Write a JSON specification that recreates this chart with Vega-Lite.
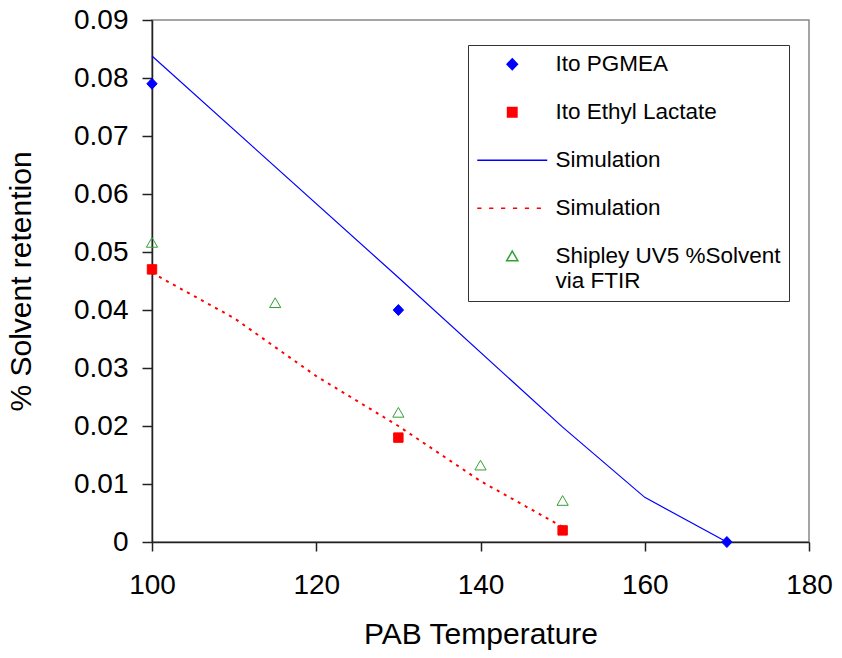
{
  "$schema": "https://vega.github.io/schema/vega-lite/v6.json",
  "autosize": "none",
  "width": 657,
  "height": 522,
  "padding": {"left": 152, "top": 20, "right": 33, "bottom": 116},
  "background": "white",
  "config": {
    "font": "Liberation Sans",
    "view": {"stroke": "#888888", "strokeWidth": 1.5},
    "axis": {
      "labelFont": "Liberation Sans",
      "titleFont": "Liberation Sans",
      "labelColor": "black",
      "titleColor": "black",
      "domainColor": "#222222",
      "tickColor": "#222222",
      "domainWidth": 1.5,
      "tickWidth": 1.5,
      "grid": false,
      "labelFlush": false,
      "titleFontWeight": "normal"
    }
  },
  "datasets": {
    "obs": [
      {"series": "Ito PGMEA", "temp": 100, "ret": 0.079},
      {"series": "Ito PGMEA", "temp": 130, "ret": 0.040},
      {"series": "Ito PGMEA", "temp": 170, "ret": 0.0},
      {"series": "Ito Ethyl Lactate", "temp": 100, "ret": 0.047},
      {"series": "Ito Ethyl Lactate", "temp": 130, "ret": 0.018},
      {"series": "Ito Ethyl Lactate", "temp": 150, "ret": 0.002},
      {"series": "Shipley UV5 %Solvent via FTIR", "temp": 100, "ret": 0.0516},
      {"series": "Shipley UV5 %Solvent via FTIR", "temp": 115, "ret": 0.0412},
      {"series": "Shipley UV5 %Solvent via FTIR", "temp": 130, "ret": 0.0223},
      {"series": "Shipley UV5 %Solvent via FTIR", "temp": 140, "ret": 0.0132},
      {"series": "Shipley UV5 %Solvent via FTIR", "temp": 150, "ret": 0.0071}
    ],
    "simA": [
      {"temp": 100, "ret": 0.0838},
      {"temp": 130, "ret": 0.0456},
      {"temp": 150, "ret": 0.0198},
      {"temp": 160, "ret": 0.0077},
      {"temp": 170, "ret": 0.0}
    ],
    "simB": [
      {"temp": 100, "ret": 0.0464},
      {"temp": 110, "ret": 0.0386},
      {"temp": 120, "ret": 0.0286},
      {"temp": 130, "ret": 0.0200},
      {"temp": 140, "ret": 0.0105},
      {"temp": 150, "ret": 0.0026}
    ]
  },
  "layer": [
    {
      "data": {"name": "simA"},
      "mark": {"type": "line", "color": "#0000FF", "strokeWidth": 1.2},
      "encoding": {
        "x": {"field": "temp", "type": "quantitative"},
        "y": {"field": "ret", "type": "quantitative"}
      }
    },
    {
      "data": {"name": "simB"},
      "mark": {"type": "line", "color": "#FF0000", "strokeWidth": 2, "strokeDash": [3, 5]},
      "encoding": {
        "x": {"field": "temp", "type": "quantitative"},
        "y": {"field": "ret", "type": "quantitative"}
      }
    },
    {
      "data": {"name": "obs"},
      "mark": {"type": "point", "size": 400, "strokeWidth": 1, "opacity": 1},
      "encoding": {
        "x": {
          "field": "temp",
          "type": "quantitative",
          "scale": {"domain": [100, 180], "nice": false, "zero": false},
          "axis": {
            "values": [100, 120, 140, 160, 180],
            "title": "PAB Temperature",
            "titleFontSize": 30,
            "labelFontSize": 28,
            "tickSize": 9,
            "labelPadding": 20,
            "titlePadding": 20
          }
        },
        "y": {
          "field": "ret",
          "type": "quantitative",
          "scale": {"domain": [0, 0.09], "nice": false},
          "axis": {
            "values": [0, 0.01, 0.02, 0.03, 0.04, 0.05, 0.06, 0.07, 0.08, 0.09],
            "labelExpr": "datum.value == 0 ? '0' : format(datum.value, '.2f')",
            "title": "% Solvent retention",
            "titleFontSize": 30,
            "labelFontSize": 28,
            "tickSize": 10,
            "labelPadding": 14,
            "titlePadding": 37
          }
        },
        "shape": {
          "field": "series",
          "type": "nominal",
          "scale": {
            "domain": ["Ito PGMEA", "Ito Ethyl Lactate", "Simulation (PGMEA)", "Simulation (Ethyl Lactate)", "Shipley UV5 %Solvent via FTIR"],
            "range": [
              "M0,-0.55L0.52,0L0,0.55L-0.52,0Z",
              "M-0.47,-0.47H0.47V0.47H-0.47Z",
              "M-3.5,0H3.5",
              "M-3.5,0H-3.08M-2.31,0H-1.89M-1.12,0H-0.7M0.07,0H0.49M1.26,0H1.68M2.45,0H2.87",
              "M0,-0.52L0.56,0.45L-0.56,0.45Z"
            ]
          },
          "legend": {
            "orient": "none",
            "legendX": 316,
            "legendY": 25,
            "title": null,
            "labelExpr": "datum.label == 'Simulation (PGMEA)' || datum.label == 'Simulation (Ethyl Lactate)' ? 'Simulation' : datum.label == 'Shipley UV5 %Solvent via FTIR' ? ['Shipley UV5 %Solvent', 'via FTIR'] : datum.label",
            "labelFont": "Liberation Sans",
            "labelFontSize": 22.5,
            "labelColor": "black",
            "labelLimit": 400,
            "symbolOffset": 25,
            "labelOffset": 32,
            "symbolSize": 400,
            "symbolStrokeWidth": 1.5,
            "rowPadding": 25,
            "padding": 8,
            "strokeColor": "#333333",
            "fillColor": "white",
            "zindex": 1
          }
        },
        "fill": {
          "field": "series",
          "type": "nominal",
          "scale": {
            "domain": ["Ito PGMEA", "Ito Ethyl Lactate", "Simulation (PGMEA)", "Simulation (Ethyl Lactate)", "Shipley UV5 %Solvent via FTIR"],
            "range": ["#0000FF", "#FF0000", "transparent", "transparent", "transparent"]
          }
        },
        "stroke": {
          "field": "series",
          "type": "nominal",
          "scale": {
            "domain": ["Ito PGMEA", "Ito Ethyl Lactate", "Simulation (PGMEA)", "Simulation (Ethyl Lactate)", "Shipley UV5 %Solvent via FTIR"],
            "range": ["#0000FF", "#FF0000", "#0000FF", "#FF0000", "#33A033"]
          }
        }
      }
    }
  ]
}
